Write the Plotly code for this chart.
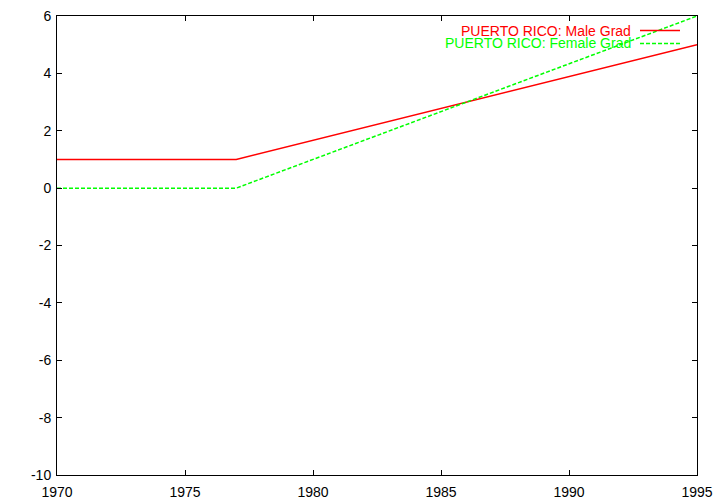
import plotly.graph_objects as go

years = [1970, 1977, 1995]
male_grad = [1, 1, 5]
female_grad = [0, 0, 6]
x_ticks = [1970, 1975, 1980, 1985, 1990, 1995]
y_ticks = [-10, -8, -6, -4, -2, 0, 2, 4, 6]
y_tick_text = [str(v) for v in y_ticks]

fig = go.Figure()
fig.add_trace(go.Scatter(x=years, y=male_grad, mode="lines", name="PUERTO RICO: Male Grad",
                         line=dict(color="#ff0000", width=1.5), showlegend=False))
fig.add_trace(go.Scatter(x=years, y=female_grad, mode="lines", name="PUERTO RICO: Female Grad",
                         line=dict(color="#00ff00", width=1.5, dash="4px,2px"), showlegend=False))

font = dict(family="Liberation Sans, Arial, sans-serif", size=14, color="black")
axis_common = dict(showgrid=False, zeroline=False, showline=True, linecolor="black", linewidth=1,
                   mirror="allticks", ticks="inside", ticklen=5, tickcolor="black", tickfont=font,
                   automargin=False)

fig.update_layout(
    width=720, height=504,
    margin=dict(l=57, r=23, t=16, b=29),
    paper_bgcolor="white", plot_bgcolor="white",
    xaxis=dict(range=[1970, 1995], tickvals=x_ticks, ticklabelstandoff=4, **axis_common),
    yaxis=dict(range=[-10, 6], tickvals=y_ticks, ticktext=y_tick_text, ticklabelstandoff=2,
               **axis_common),
    showlegend=False,
)

# gnuplot-style key: text right-aligned, sample line to its right
entries = [("PUERTO RICO: Male Grad", "#ff0000", "solid", 30.5),
           ("PUERTO RICO: Female Grad", "#00ff00", "4px,2px", 43.5)]
for text, color, dash, ypix in entries:
    yp = 1 - (ypix - 16) / (475 - 16)
    fig.add_annotation(x=(631 - 57) / 640, y=yp, xref="paper", yref="paper", text=text,
                       showarrow=False, xanchor="right", yanchor="middle", xshift=2,
                       font=dict(family="Liberation Sans, Arial, sans-serif", size=14, color=color))
    fig.add_shape(type="line", xref="paper", yref="paper",
                  x0=(640 - 57) / 640, x1=(680 - 57) / 640, y0=yp, y1=yp,
                  line=dict(color=color, width=1.5, dash=dash))

fig.write_html("out.html", config={"displayModeBar": False},
               post_script="document.body.style.margin='0';")
